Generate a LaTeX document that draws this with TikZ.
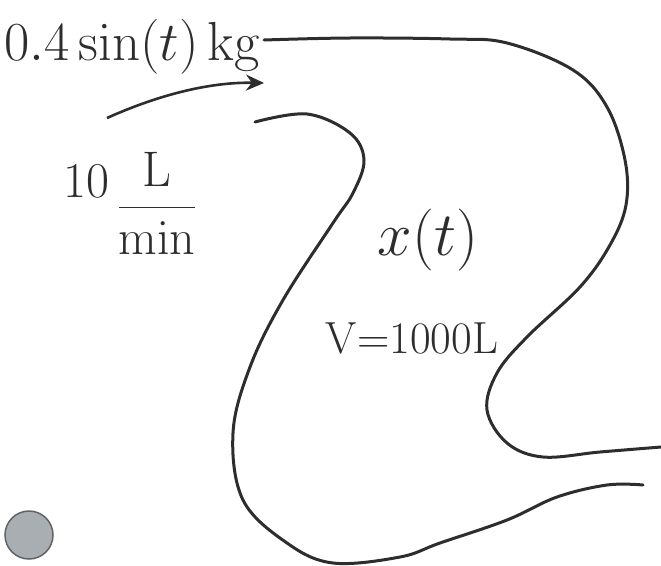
\documentclass[tikz,border=0pt]{standalone}
\usepackage{fix-cm}
\usepackage{amsmath}
\usetikzlibrary{arrows.meta, positioning}
\definecolor{ink}{RGB}{45,45,45}
\definecolor{ballfill}{RGB}{168,174,178}
\definecolor{balledge}{RGB}{95,100,104}

\begin{document}
\begin{tikzpicture}[x=1pt, y=-1pt,
  wall/.style={ink, line width=3pt, line cap=round},
  hand/.style={ink, inner sep=0pt}]
\useasboundingbox (0,0) rectangle (661,565);
% Outer wall of the tank
\draw[wall] plot[smooth, tension=0.6] coordinates {(264,40) (350,38) (450,39) (507,43) (573,70) (607,107) (625,160) (626,205) (610,245) (580,287) (527,337) (497,373) (487,410) (507,443) (543,457) (600,452) (661,447)};
% Inner wall of the tank
\draw[wall] plot[smooth, tension=0.6] coordinates {(255,122) (307,114) (350,133) (364,160) (353,193) (333,223) (283,300) (250,367) (233,433) (243,500) (287,543) (333,563) (400,557) (440,543) (507,520) (557,497) (607,485) (643,485)};
% Inflow
\node[hand, font=\fontsize{55}{60}\selectfont, anchor=base west] (salt) at (4,60) {$0.4\sin(t)$\,kg};
\coordinate (inTail) at (107,118);
\coordinate (inHead) at (264,83);
\draw[ink, line width=2.6pt, -{Stealth[length=18pt, width=16pt]}] (inTail) .. controls (165,92) and (215,82) .. (inHead);
\node[hand, font=\fontsize{50}{55}\selectfont] (rate) at (130,203) {$\raisebox{0.45em}{$10$}\,\dfrac{\mathrm{L}}{\mathrm{min}}$};
% Inside the tank
\node[hand, font=\fontsize{62}{66}\selectfont] (conc) at (428,240) {$x(t)$};
\node[hand, font=\fontsize{45}{50}\selectfont] (vol) at (412,338) {V=1000L};
% Ball
\node[circle, fill=ballfill, draw=balledge, line width=1.5pt, minimum size=48pt, inner sep=0pt] (ball) at (29,535) {};
\end{tikzpicture}
\end{document}
